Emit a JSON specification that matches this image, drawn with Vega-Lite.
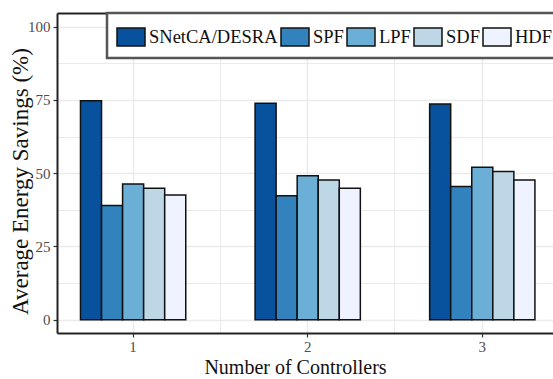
{
  "$schema": "https://vega.github.io/schema/vega-lite/v6.json",
  "width": 496,
  "height": 320,
  "autosize": {"type": "none"},
  "padding": {"left": 57, "top": 13, "right": 0, "bottom": 46},
  "background": "white",
  "config": {
    "view": {"stroke": null},
    "font": "Liberation Serif",
    "legend": {"strokeWidth": 2.5}
  },
  "data": {
    "values": [
      {"controllers": 1, "method": "SNetCA/DESRA", "value": 74.7},
      {"controllers": 1, "method": "SPF", "value": 39.0},
      {"controllers": 1, "method": "LPF", "value": 46.3},
      {"controllers": 1, "method": "SDF", "value": 44.9},
      {"controllers": 1, "method": "HDF", "value": 42.6},
      {"controllers": 2, "method": "SNetCA/DESRA", "value": 73.9},
      {"controllers": 2, "method": "SPF", "value": 42.3},
      {"controllers": 2, "method": "LPF", "value": 49.1},
      {"controllers": 2, "method": "SDF", "value": 47.7},
      {"controllers": 2, "method": "HDF", "value": 44.9},
      {"controllers": 3, "method": "SNetCA/DESRA", "value": 73.6},
      {"controllers": 3, "method": "SPF", "value": 45.5},
      {"controllers": 3, "method": "LPF", "value": 52.0},
      {"controllers": 3, "method": "SDF", "value": 50.6},
      {"controllers": 3, "method": "HDF", "value": 47.7}
    ]
  },
  "layer": [
    {
      "mark": {"type": "bar", "opacity": 0},
      "encoding": {
        "x": {
          "field": "controllers",
          "type": "ordinal",
          "scale": {"paddingInner": 0.397, "paddingOuter": 0.119, "align": 0.565},
          "axis": {
            "orient": "top",
            "title": null,
            "labels": false,
            "ticks": false,
            "domain": true,
            "domainColor": "#222",
            "domainWidth": 2,
            "grid": true,
            "gridColor": "#ebebeb",
            "gridWidth": 1,
            "values": [1, 2],
            "bandPosition": 1.329
          }
        },
        "y": {
          "field": "value",
          "type": "quantitative",
          "scale": {"domain": [-4.55, 104.7], "nice": false, "zero": false},
          "axis": null
        }
      }
    },
    {
      "mark": {"type": "bar", "stroke": "#111", "strokeWidth": 1.5, "opacity": 1},
      "encoding": {
        "x": {
          "field": "controllers",
          "type": "ordinal",
          "scale": {"paddingInner": 0.397, "paddingOuter": 0.119, "align": 0.565},
          "axis": {
            "orient": "bottom",
            "title": "Number of Controllers",
            "labelAngle": 0,
            "bandPosition": 0.5,
            "grid": true,
            "gridColor": "#ebebeb",
            "gridWidth": 1.5,
            "domainColor": "#222",
            "domainWidth": 2,
            "tickColor": "#333",
            "tickSize": 4,
            "tickWidth": 1.2,
            "labelFont": "Liberation Serif",
            "labelFontSize": 15,
            "labelColor": "#4d4d4d",
            "labelPadding": 2,
            "titleFont": "Liberation Serif",
            "titleFontSize": 20,
            "titleFontWeight": "normal",
            "titleColor": "#111",
            "titleX": 238,
            "titleY": 40,
            "titleBaseline": "alphabetic",
            "titleAlign": "center"
          }
        },
        "xOffset": {
          "field": "method",
          "type": "nominal",
          "scale": {"domain": ["SNetCA/DESRA", "SPF", "LPF", "SDF", "HDF"], "paddingInner": 0, "paddingOuter": 0}
        },
        "y": {
          "field": "value",
          "type": "quantitative",
          "scale": {"domain": [-4.55, 104.7], "nice": false, "zero": false},
          "axis": {
            "orient": "left",
            "title": "Average Energy Savings (%)",
            "values": [0, 12.5, 25, 37.5, 50, 62.5, 75, 87.5, 100],
            "labelExpr": "datum.value % 25 === 0 ? format(datum.value, 'd') : ''",
            "tickColor": {"condition": {"test": "datum.value % 25 !== 0", "value": "transparent"}, "value": "#333"},
            "gridColor": "#ebebeb",
            "gridWidth": {"condition": {"test": "datum.value % 25 !== 0", "value": 1}, "value": 1.5},
            "grid": true,
            "domainColor": "#222",
            "domainWidth": 2,
            "tickSize": 4,
            "tickWidth": 1.2,
            "labelFont": "Liberation Serif",
            "labelFontSize": 15,
            "labelColor": "#4d4d4d",
            "labelPadding": 3,
            "titleFont": "Liberation Serif",
            "titleFontSize": 23,
            "titleFontWeight": "normal",
            "titleColor": "#111",
            "titleAngle": 270,
            "titleX": -30,
            "titleY": 168,
            "titleBaseline": "alphabetic",
            "titleAlign": "center"
          }
        },
        "y2": {"datum": 0},
        "fill": {
          "field": "method",
          "type": "nominal",
          "scale": {
            "domain": ["SNetCA/DESRA", "SPF", "LPF", "SDF", "HDF"],
            "range": ["#08519c", "#3182bd", "#6baed6", "#bdd7e7", "#eff3ff"]
          },
          "legend": {
            "title": null,
            "orient": "none",
            "legendX": 50,
            "legendY": 0,
            "direction": "horizontal",
            "columns": 5,
            "symbolType": "M-1,-0.64H1V0.64H-1Z",
            "symbolSize": 784,
            "symbolStrokeColor": "#111",
            "symbolStrokeWidth": 1.5,
            "symbolOpacity": 1,
            "labelFont": "Liberation Serif",
            "labelFontSize": 18.5,
            "labelColor": "#111",
            "labelOffset": 3,
            "columnPadding": 0,
            "padding": 9,
            "symbolOffset": 0,
            "fillColor": "white",
            "strokeColor": "#555"
          }
        }
      }
    }
  ],
  "resolve": {"axis": {"x": "independent", "y": "independent"}}
}
